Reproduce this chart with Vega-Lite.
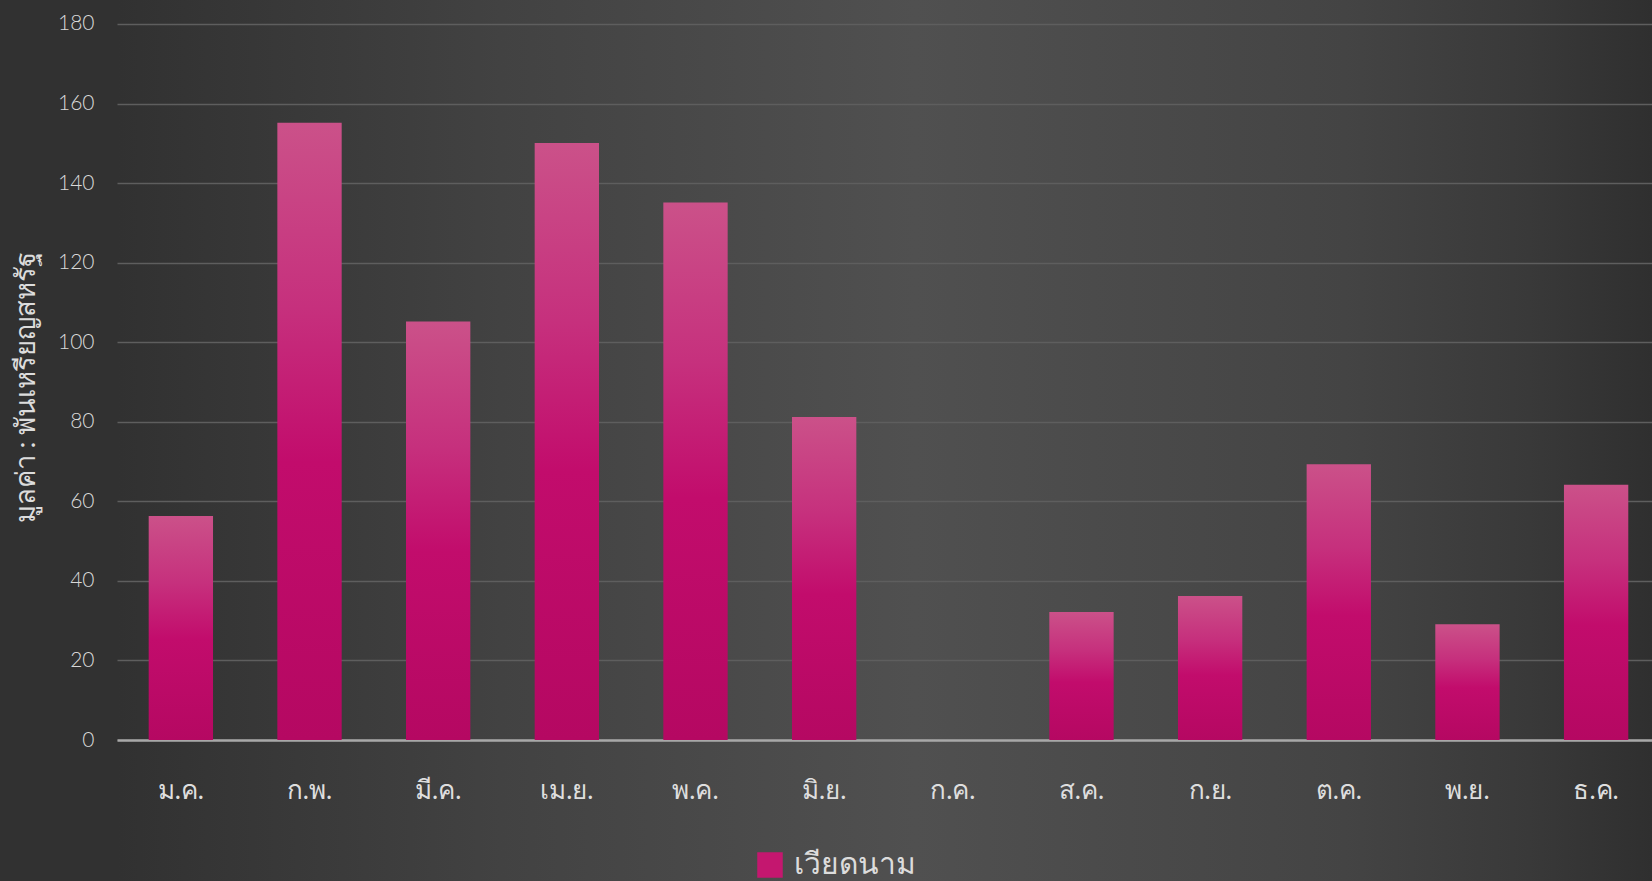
{
  "$schema": "https://vega.github.io/schema/vega-lite/v6.json",
  "width": 1535,
  "height": 881,
  "autosize": {"type": "none"},
  "padding": {"left": 117, "top": 0, "right": 0, "bottom": 0},
  "background": "#313131",
  "config": {
    "view": {
      "stroke": null,
      "fill": {
        "gradient": "linear",
        "x1": 0, "y1": 0.5, "x2": 1, "y2": 0.5,
        "stops": [
          {"offset": 0, "color": "#313131"},
          {"offset": 0.25, "color": "#424242"},
          {"offset": 0.52, "color": "#505050"},
          {"offset": 0.8, "color": "#444444"},
          {"offset": 0.92, "color": "#393939"},
          {"offset": 1, "color": "#2f2f2f"}
        ]
      }
    },
    "font": "Lato"
  },
  "data": {
    "values": [
      {"month": "ม.ค.", "value": 56.3, "country": "เวียดนาม"},
      {"month": "ก.พ.", "value": 155.2, "country": "เวียดนาม"},
      {"month": "มี.ค.", "value": 105.2, "country": "เวียดนาม"},
      {"month": "เม.ย.", "value": 150.1, "country": "เวียดนาม"},
      {"month": "พ.ค.", "value": 135.1, "country": "เวียดนาม"},
      {"month": "มิ.ย.", "value": 81.2, "country": "เวียดนาม"},
      {"month": "ก.ค.", "value": 0, "country": "เวียดนาม"},
      {"month": "ส.ค.", "value": 32.2, "country": "เวียดนาม"},
      {"month": "ก.ย.", "value": 36.2, "country": "เวียดนาม"},
      {"month": "ต.ค.", "value": 69.3, "country": "เวียดนาม"},
      {"month": "พ.ย.", "value": 29.1, "country": "เวียดนาม"},
      {"month": "ธ.ค.", "value": 64.2, "country": "เวียดนาม"}
    ]
  },
  "encoding": {
    "x": {
      "field": "month",
      "type": "nominal",
      "sort": null,
      "scale": {"paddingInner": 0.5, "paddingOuter": 0.2153, "align": 0.572},
      "axis": {
        "title": null,
        "offset": -141,
        "labelAngle": 0,
        "labelFontSize": 26,
        "labelColor": "#dedede",
        "labelPadding": 37,
        "ticks": false,
        "domainColor": "#a8a8a8",
        "domainWidth": 2.5,
        "grid": false
      }
    },
    "y": {
      "field": "value",
      "type": "quantitative",
      "scale": {"domain": [-35.44, 186.03], "nice": false, "zero": false},
      "axis": {
        "title": "มูลค่า : พันเหรียญสหรัฐ",
        "titleFontSize": 27.5,
        "titleFontWeight": "normal",
        "titleColor": "#dcdcdc",
        "titlePadding": 17,
        "titleY": 387,
        "values": [0, 20, 40, 60, 80, 100, 120, 140, 160, 180],
        "labelFontSize": 21,
        "labelFontWeight": 300,
        "labelColor": "#d9d9d9",
        "labelPadding": 23,
        "ticks": false,
        "domain": false,
        "gridColor": "#5e5e5e",
        "gridWidth": 1.3
      }
    }
  },
  "layer": [
    {
      "mark": {
        "type": "bar",
        "fill": {
          "gradient": "linear",
          "x1": 0, "y1": 0, "x2": 0, "y2": 1,
          "stops": [
            {"offset": 0, "color": "#cb5189"},
            {"offset": 0.3, "color": "#c6307d"},
            {"offset": 0.55, "color": "#c20c6c"},
            {"offset": 1, "color": "#b50862"}
          ]
        }
      },
      "encoding": {
        "y2": {"datum": 0}
      }
    },
    {
      "mark": {"type": "bar", "opacity": 0},
      "encoding": {
        "y2": {"datum": 0},
        "color": {
          "field": "country",
          "type": "nominal",
          "scale": {"range": ["#c4176f"]},
          "legend": {
            "title": null,
            "orient": "none",
            "legendX": 638,
            "legendY": 850,
            "padding": 0,
            "symbolType": "square",
            "symbolSize": 650,
            "symbolOpacity": 1,
            "symbolStrokeWidth": 0,
            "labelFontSize": 30,
            "labelColor": "#dcdcdc",
            "labelOffset": 9
          }
        }
      }
    }
  ]
}
